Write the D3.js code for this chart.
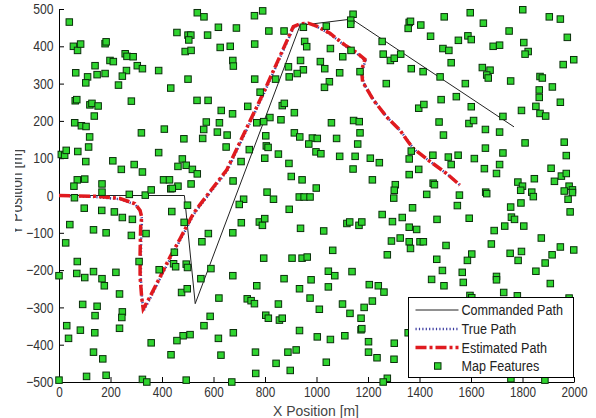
<!DOCTYPE html>
<html>
<head>
<meta charset="utf-8">
<script src="https://cdn.jsdelivr.net/npm/d3@7"></script>
<style>
  body { margin: 0; background: #fff; }
  svg { display: block; font-family: "Liberation Sans", Arial, sans-serif; }
</style>
</head>
<body>
<svg id="chart-area"></svg>
<script>
// map features [x, y] in metres
const mapFeatures = [
  [40,465],[537,490],[563,479],[458,437],[501,430],[512,430],[504,417],[577,430],[619,451],[490,386],[513,389],[626,397],[665,400],[675,362],[677,347],
  [56,400],[72,389],[84,406],[179,407],[183,412],[257,380],[264,373],[288,372],[198,362],[211,359],[140,348],[65,329],[111,318],[104,302],[148,324],
  [179,327],[262,335],[246,320],[304,348],[324,340],[387,335],[231,296],[434,288],[501,312],[536,255],[579,255],[630,228],[674,219],[63,254],[69,257],
  [120,243],[128,247],[152,240],[137,213],[281,253],[61,195],[87,187],[105,185],[119,157],[320,168],[409,178],[485,152],[558,153],[562,177],[572,197],
  [615,170],[623,195],[653,162],[649,130],[9,110],[22,108],[28,121],[73,118],[115,130],[104,91],[209,93],[242,70],[292,83],[324,63],[387,115],
  [479,98],[462,78],[494,81],[518,70],[537,58],[513,31],[71,42],[100,44],[58,25],[167,31],[167,9],[406,42],[429,42],[434,18],[462,25],
  [440,19],[676,39],[60,-6],[273,3],[335,1],[358,15],
  [759,482],[791,495],[689,449],[815,441],[874,441],[760,406],[949,451],[1038,454],[1142,486],[1133,470],[1133,459],[954,413],[962,399],[1054,394],[1134,389],
  [1102,372],[1255,413],[1259,379],[1287,362],[1302,368],[1327,379],[938,362],[1015,359],[1032,340],[891,345],[949,337],[925,327],[894,318],[1090,329],[1169,332],
  [760,312],[841,312],[1050,305],[1031,290],[1271,300],[781,277],[733,239],[867,241],[875,247],[914,222],[819,209],[795,198],[768,195],[862,203],[1058,195],
  [1144,201],[1166,198],[803,160],[914,168],[935,157],[984,154],[1003,153],[970,138],[1078,153],[1169,168],[1160,138],[805,133],[812,129],[739,123],[799,100],
  [852,111],[998,117],[1017,112],[1090,105],[1150,105],[1209,100],[1244,88],[1142,71],[707,91],[893,86],[902,51],[944,42],[999,20],[1217,42],[1306,29],
  [1302,14],[1300,-7],[808,9],[833,-10],[933,-4],[952,-4],[975,-4],[717,-10],
  [1801,498],[1904,479],[1947,473],[1496,479],[1597,490],[1648,462],[1360,464],[1365,467],[1356,448],[1405,457],[1443,427],[1748,441],[1588,428],[1601,418],[1551,416],
  [1491,394],[1514,389],[1686,400],[1711,403],[1805,410],[1822,386],[1810,379],[1974,424],[1999,364],[1958,351],[1523,356],[1368,340],[1414,332],[1480,318],[1578,300],
  [1644,343],[1674,336],[1661,323],[1667,315],[1754,307],[1868,319],[1877,315],[1916,291],[1865,283],[1865,263],[1947,250],[1484,257],[1543,265],[1397,234],[1417,244],
  [1601,238],[1724,212],[1796,228],[1852,239],[1868,220],[1890,213],[1476,197],[1592,193],[1610,201],[1656,177],[1711,170],[1493,162],[1810,141],[1962,143],[1656,127],
  [1724,114],[1368,119],[1360,98],[1452,108],[1512,103],[1523,83],[1550,108],[1613,99],[1970,107],[1397,70],[1360,56],[1652,72],[1711,83],[1699,59],[1911,73],
  [1951,52],[1970,59],[1924,38],[1846,45],[1782,36],[1800,25],[1793,14],[1836,9],[1842,-3],[1981,25],[1962,12],[1994,15],[1994,8],[1977,-10],[1453,33],
  [1458,29],[1428,3],[1555,1],[1657,9],[1661,5],
  [499,-26],[98,-34],[166,-40],[215,-44],[246,-59],[285,-64],[438,-43],[486,-72],[42,-78],[134,-92],[183,-100],[281,-107],[338,-102],[580,-102],[555,-124],
  [675,-100],[26,-127],[448,-152],[71,-177],[311,-177],[445,-183],[453,-191],[494,-184],[499,-193],[389,-199],[69,-209],[100,-220],[134,-204],[167,-223],[176,-242],
  [221,-206],[0,-215],[590,-196],[551,-223],[675,-215],[235,-264],[476,-260],[498,-250],[621,-275],[92,-292],[148,-297],[246,-312],[244,-327],[140,-322],[587,-324],
  [563,-349],[30,-349],[83,-361],[139,-368],[37,-383],[235,-356],[482,-376],[509,-373],[458,-389],[358,-395],[619,-383],[677,-368],[134,-420],[170,-438],[435,-427],
  [629,-428],[107,-485],[183,-482],[0,-495],[324,-493],[341,-500],[494,-495],[671,-500],
  [894,-37],[700,-24],[708,-73],[778,-71],[790,-80],[799,-62],[938,-88],[1028,-95],[1118,-75],[1129,-71],[1165,-80],[1176,-71],[1255,-51],[1295,-70],[1333,-59],
  [1291,-122],[1325,-114],[1275,-159],[1063,-147],[795,-168],[905,-168],[944,-168],[964,-165],[874,-223],[979,-226],[934,-250],[1046,-203],[1071,-215],[1138,-204],[768,-242],
  [1046,-245],[1205,-239],[1240,-242],[1262,-259],[731,-277],[746,-282],[759,-290],[852,-291],[975,-275],[1011,-305],[1101,-291],[1130,-316],[1185,-300],[1217,-283],[1173,-329],
  [1173,-360],[1176,-357],[803,-321],[813,-329],[856,-334],[867,-329],[934,-362],[1003,-379],[1054,-386],[1110,-376],[1202,-392],[1202,-420],[1235,-435],[1302,-396],[1301,-439],
  [763,-420],[889,-420],[921,-414],[843,-450],[898,-469],[1038,-447],[764,-477],[1275,-490],[1259,-500],[1356,-368],
  [1373,-33],[1547,-27],[1754,-31],[1794,-20],[1985,-44],[1468,-64],[1593,-61],[1757,-58],[1769,-64],[1805,-82],[1731,-82],[1690,-94],[1360,-85],[1389,-91],[1873,-114],
  [1360,-124],[1402,-124],[1415,-124],[1365,-142],[1503,-134],[1679,-130],[1603,-157],[1586,-174],[1752,-155],[1796,-150],[1783,-174],[1947,-138],[1915,-159],[1888,-181],[1852,-203],
  [1999,-146],[1467,-171],[1489,-201],[1447,-225],[1495,-242],[1566,-206],[1570,-233],[1699,-217],[1699,-226],[1908,-236],[1727,-260],[1780,-269],[1596,-268],[1603,-274],[1981,-275],
  [1755,-491],[1887,-495]
]

const commandedPath = [[0,0],[487,0],[529,-290],[936,456],[1137,473],[1767,184]]

const truePath = [[0,0],[140,-4],[240,-10],[298,-25],[317,-45],[323,-65],[320,-90],[318,-160],[318,-222],[322,-275],[328,-310],
  [355,-275],[393,-222],[433,-168],[472,-118],[524,-50],[582,3],[627,43],[653,66],[795,272],[912,452],[938,458],[970,461],
  [1003,452],[1054,432],[1113,400],[1158,380],[1190,362],[1178,334],[1182,303],[1224,254],[1275,209],[1327,173],[1359,142],
  [1379,124],[1437,93],[1508,57],[1560,26]]

const estimatedPath = [[0,0],[140,-2],[237,-8],[295,-22],[315,-40],[321,-58],[317,-84],[315,-156],[315,-219],[321,-272],[327,-304],
  [353,-272],[392,-219],[431,-165],[470,-116],[522,-48],[580,5],[625,45],[651,68],[793,274],[910,453],[936,460],[968,462],
  [1001,454],[1052,435],[1111,403],[1156,383],[1188,365],[1175,336],[1179,305],[1221,256],[1272,211],[1324,175],[1356,144],
  [1376,126],[1434,95],[1505,59],[1557,28]]

const xTicks = [0,200,400,600,800,1000,1200,1400,1600,1800,2000]
const yTicks = [-500,-400,-300,-200,-100,0,100,200,300,400,500]
const legendLabels = ["Commanded Path","True Path","Estimated Path","Map Features"]

const xAccessor = d => d[0]
const yAccessor = d => d[1]

const svgWidth = 596
const svgHeight = 418
const squeeze = 0.84   // text in the picture is narrower than Arial

const svg = d3.select("#chart-area")
  .attr("width", svgWidth)
  .attr("height", svgHeight)

const xScale = d3.scaleLinear().domain([0, 2000]).range([59, 574])
const yScale = d3.scaleLinear().domain([-500, 500]).range([382, 9])

const line = d3.line()
  .x(d => xScale(xAccessor(d)))
  .y(d => yScale(yAccessor(d)))

// axes (ticks point inwards, MATLAB style)
const xAxis = svg.append("g")
  .attr("transform", `translate(0,${yScale(-500)})`)
  .call(d3.axisBottom(xScale).tickValues(xTicks).tickFormat(d3.format("d"))
    .tickSizeInner(-5).tickSizeOuter(0).tickPadding(5))
  .attr("font-family", null).attr("font-size", 14)
xAxis.selectAll("text").attr("fill", "#333").attr("transform", `scale(${squeeze},1)`)

const yAxis = svg.append("g")
  .attr("transform", `translate(${xScale(0)},0)`)
  .call(d3.axisLeft(yScale).tickValues(yTicks).tickFormat(d3.format("d"))
    .tickSizeInner(-5).tickSizeOuter(0).tickPadding(6.5))
  .attr("font-family", null).attr("font-size", 14.5)
yAxis.selectAll("text").attr("fill", "#333").attr("transform", `scale(${squeeze},1)`)

svg.append("text")
  .attr("transform", `translate(316,416) scale(0.9,1)`)
  .attr("text-anchor", "middle")
  .attr("font-size", 15.5)
  .attr("fill", "#444")
  .text("X Position [m]")

// y label is cut off at the left edge in the original
svg.append("clipPath").attr("id", "ylab-clip")
  .append("rect").attr("x", 15).attr("y", 100).attr("width", 30).attr("height", 200)
svg.append("g").attr("clip-path", "url(#ylab-clip)")
  .append("text")
  .attr("transform", `translate(22,192) rotate(-90) scale(0.87,1)`)
  .attr("text-anchor", "middle")
  .attr("font-size", 16)
  .attr("fill", "#444")
  .text("Y Position [m]")

// paths
svg.append("path")
  .attr("d", line(commandedPath))
  .attr("fill", "none")
  .attr("stroke", "#222")
  .attr("stroke-width", 1)

svg.append("path")
  .attr("d", line(truePath))
  .attr("fill", "none")
  .attr("stroke", "#3c3ca0")
  .attr("stroke-width", 2.5)
  .attr("stroke-dasharray", "1.2,2.2")

svg.append("path")
  .attr("d", line(estimatedPath))
  .attr("fill", "none")
  .attr("stroke", "#e01a1f")
  .attr("stroke-width", 3.5)
  .attr("stroke-dasharray", "11,3,3,3")

// map features
svg.append("g").selectAll("rect")
  .data(mapFeatures)
  .enter().append("rect")
  .attr("x", d => xScale(xAccessor(d)) - 3.25)
  .attr("y", d => yScale(yAccessor(d)) - 3.25)
  .attr("width", 6.5)
  .attr("height", 6.5)
  .attr("fill", "#2fd42f")
  .attr("stroke", "#0b300b")
  .attr("stroke-width", 1)

// legend
const legend = svg.append("g").attr("transform", "translate(408.5,297.5)")
legend.append("rect")
  .attr("width", 165).attr("height", 80)
  .attr("fill", "#fff").attr("stroke", "#000").attr("stroke-width", 1)

const rowY = [12.5, 31.5, 50, 68.5]
legend.append("line").attr("x1", 7).attr("x2", 50).attr("y1", rowY[0]).attr("y2", rowY[0])
  .attr("stroke", "#222").attr("stroke-width", 1)
legend.append("line").attr("x1", 7).attr("x2", 50).attr("y1", rowY[1]).attr("y2", rowY[1])
  .attr("stroke", "#3c3ca0").attr("stroke-width", 2.5).attr("stroke-dasharray", "1.2,2.2")
legend.append("line").attr("x1", 7).attr("x2", 50).attr("y1", rowY[2]).attr("y2", rowY[2])
  .attr("stroke", "#e01a1f").attr("stroke-width", 3.5).attr("stroke-dasharray", "11,3,3,3")
legend.append("rect").attr("x", 26).attr("y", rowY[3] - 3.25).attr("width", 6.5).attr("height", 6.5)
  .attr("fill", "#2fd42f").attr("stroke", "#0b300b")

legend.selectAll("text.lab")
  .data(legendLabels)
  .enter().append("text")
  .attr("class", "lab")
  .attr("transform", (d, i) => `translate(53,${rowY[i] + 5.2}) scale(${squeeze},1)`)
  .attr("font-size", 15)
  .attr("fill", "#222")
  .text(d => d)
</script>
</body>
</html>
